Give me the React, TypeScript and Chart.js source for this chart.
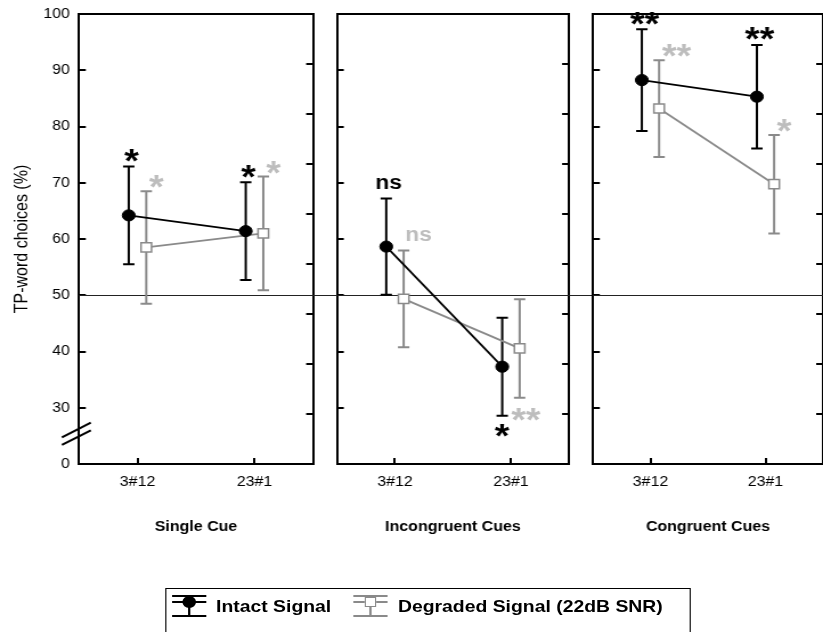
import React, { useEffect, useRef } from 'react';
import { Chart, registerables } from 'chart.js';

Chart.register(...registerables);

const FONT = "'Liberation Sans', Arial, Helvetica, sans-serif";

// ---------------- data ----------------
const CATEGORIES = ['3#12', '23#1'];
const PANEL_TITLES = ['Single Cue', 'Incongruent Cues', 'Congruent Cues'];
const SERIES = ['Intact Signal', 'Degraded Signal (22dB SNR)'];
const Y_AXIS_TITLE = 'TP-word choices (%)';
const Y_TICK_VALUES = [20, 30, 40, 50, 60, 70, 80, 90, 100];
const Y_TICK_LABELS = ['0', '30', '40', '50', '60', '70', '80', '90', '100'];
const CHANCE_LEVEL = 50;
const AXIS_BREAK_VALUE = 25.6;

const SINGLE_INTACT_MEAN = [64.2, 61.4];
const SINGLE_INTACT_ERR = [8.7, 8.7];
const SINGLE_INTACT_SIG = ['*', '*'];
const SINGLE_DEGRADED_MEAN = [58.5, 61.0];
const SINGLE_DEGRADED_ERR = [10.0, 10.1];
const SINGLE_DEGRADED_SIG = ['*', '*'];

const INCONG_INTACT_MEAN = [58.65, 37.3];
const INCONG_INTACT_ERR = [8.55, 8.7];
const INCONG_INTACT_SIG = ['ns', '*'];
const INCONG_DEGRADED_MEAN = [49.35, 40.55];
const INCONG_DEGRADED_ERR = [8.6, 8.75];
const INCONG_DEGRADED_SIG = ['ns', '**'];

const CONG_INTACT_MEAN = [88.25, 85.3];
const CONG_INTACT_ERR = [9.05, 9.2];
const CONG_INTACT_SIG = ['**', '**'];
const CONG_DEGRADED_MEAN = [83.2, 69.75];
const CONG_DEGRADED_ERR = [8.6, 8.75];
const CONG_DEGRADED_SIG = ['**', '*'];

const PANELS = [
  { intactMean: SINGLE_INTACT_MEAN, intactErr: SINGLE_INTACT_ERR, intactSig: SINGLE_INTACT_SIG,
    degMean: SINGLE_DEGRADED_MEAN, degErr: SINGLE_DEGRADED_ERR, degSig: SINGLE_DEGRADED_SIG },
  { intactMean: INCONG_INTACT_MEAN, intactErr: INCONG_INTACT_ERR, intactSig: INCONG_INTACT_SIG,
    degMean: INCONG_DEGRADED_MEAN, degErr: INCONG_DEGRADED_ERR, degSig: INCONG_DEGRADED_SIG },
  { intactMean: CONG_INTACT_MEAN, intactErr: CONG_INTACT_ERR, intactSig: CONG_INTACT_SIG,
    degMean: CONG_DEGRADED_MEAN, degErr: CONG_DEGRADED_ERR, degSig: CONG_DEGRADED_SIG },
];

// ---------------- layout / style ----------------
const VIEW_W = 823;
const LOGICAL_W = 722;
const STRETCH = VIEW_W / LOGICAL_W;
const CANVAS_W = 730;
const CANVAS_H = 632;
const AREA_TOP = 14;
const AREA_BOTTOM = 464;
const X_AXIS_H = 80;
const PANEL_AREAS = [
  { left: 69.3, right: 274.6 },
  { left: 295.6, right: 499.1 },
  { left: 520.2, right: 725.4 },
];
const INTACT_SHIFT = -0.15;
const DEGRADED_SHIFT = 0.15;
const BLACK = '#000000';
const GREY = '#8a8a8a';
const LIGHT_GREY = '#bdbdbd';

const refLinePlugin = {
  id: 'refLine',
  beforeDatasetsDraw(chart: any, _a: any, opts: any) {
    const { ctx, chartArea, scales } = chart;
    const y = Math.round(scales.y.getPixelForValue(opts.value)) + 0.5;
    ctx.save();
    ctx.strokeStyle = '#222';
    ctx.lineWidth = 1;
    ctx.beginPath();
    ctx.moveTo(chartArea.left, y);
    ctx.lineTo(opts.right, y);
    ctx.stroke();
    ctx.restore();
  },
};

const errorBarPlugin = {
  id: 'errorBars',
  beforeDatasetsDraw(chart: any) {
    const { ctx } = chart;
    const yS = chart.scales.y;
    chart.data.datasets.forEach((ds: any, di: number) => {
      const meta = chart.getDatasetMeta(di);
      meta.data.forEach((pt: any, i: number) => {
        const m = ds.data[i].y;
        const e = ds.errors[i];
        const yt = yS.getPixelForValue(m + e);
        const yb = yS.getPixelForValue(m - e);
        const x = pt.x;
        ctx.save();
        ctx.strokeStyle = ds.errorColor;
        ctx.lineWidth = 2;
        ctx.beginPath();
        ctx.moveTo(x, yt);
        ctx.lineTo(x, yb);
        ctx.moveTo(x - 5, yt);
        ctx.lineTo(x + 5, yt);
        ctx.moveTo(x - 5, yb);
        ctx.lineTo(x + 5, yb);
        ctx.stroke();
        ctx.restore();
      });
    });
  },
};

const sigPlugin = {
  id: 'sigLabels',
  afterDatasetsDraw(chart: any) {
    const { ctx } = chart;
    const yS = chart.scales.y;
    chart.data.datasets.forEach((ds: any, di: number) => {
      const meta = chart.getDatasetMeta(di);
      meta.data.forEach((pt: any, i: number) => {
        const label = ds.sig[i];
        if (!label) return;
        const m = ds.data[i].y;
        const e = ds.errors[i];
        const yt = yS.getPixelForValue(m + e);
        const yb = yS.getPixelForValue(m - e);
        const below = m + e < CHANCE_LEVEL;
        const stars = /^\*+$/.test(label);
        ctx.save();
        ctx.font = `bold ${stars ? 33 : 20}px ${FONT}`;
        ctx.fillStyle = ds.sigColor;
        ctx.textAlign = 'left';
        ctx.textBaseline = 'alphabetic';
        const mt = ctx.measureText(label);
        const abl = mt.actualBoundingBoxLeft;
        const abr = mt.actualBoundingBoxRight;
        const asc = mt.actualBoundingBoxAscent;
        const desc = mt.actualBoundingBoxDescent;
        const inkW = abl + abr;
        let cx: number;
        let cy: number;
        const central = ds.sigSide === 'center';
        if (below) {
          cx = central ? pt.x : pt.x + 5.5;
          cy = central ? yb + 15 : yb + 16.5;
        } else if (central) {
          cx = pt.x + 2.5;
          cy = yt - (stars ? 11 : 15);
        } else {
          cx = pt.x + 2.5 + inkW / 2;
          cy = yt - (stars ? 9.5 : 15);
        }
        const x = cx - inkW / 2 + abl;
        const y = cy + (asc - desc) / 2;
        ctx.fillText(label, x, y);
        ctx.restore();
      });
    });
  },
};

const breakPlugin = {
  id: 'axisBreak',
  afterDraw(chart: any) {
    const { ctx, chartArea } = chart;
    const cy = chart.scales.y.getPixelForValue(AXIS_BREAK_VALUE);
    const x = chartArea.left;
    ctx.save();
    ctx.strokeStyle = '#000';
    ctx.lineWidth = 2;
    for (const off of [-3.8, 3.8]) {
      ctx.beginPath();
      ctx.moveTo(x - 15, cy + off + 8.6);
      ctx.lineTo(x + 10.4, cy + off - 6);
      ctx.stroke();
    }
    ctx.restore();
  },
};

function noScalePadding(s: any) {
  s.paddingTop = 0;
  s.paddingBottom = 0;
  s.paddingLeft = 0;
  s.paddingRight = 0;
}

function buildConfig(p: number): any {
  const panel = PANELS[p];
  const area = PANEL_AREAS[p];
  const first = p === 0;
  const last = p === PANELS.length - 1;
  const border = { display: true, width: 2, color: BLACK };
  const tickGrid = {
    display: true,
    drawOnChartArea: false,
    drawTicks: true,
    tickLength: -6,
    lineWidth: 2,
    color: BLACK,
  };
  return {
    type: 'line',
    data: {
      datasets: [
        {
          label: SERIES[0],
          data: panel.intactMean.map((m, i) => ({ x: 2 * i + 1 + INTACT_SHIFT, y: m })),
          errors: panel.intactErr,
          sig: panel.intactSig,
          errorColor: BLACK,
          sigColor: BLACK,
          sigSide: 'center',
          borderColor: BLACK,
          borderWidth: 1.8,
          pointStyle: 'circle',
          pointRadius: 5.6,
          pointBorderWidth: 1,
          pointBackgroundColor: BLACK,
          pointBorderColor: BLACK,
          tension: 0,
          fill: false,
        },
        {
          label: SERIES[1],
          data: panel.degMean.map((m, i) => ({ x: 2 * i + 1 + DEGRADED_SHIFT, y: m })),
          errors: panel.degErr,
          sig: panel.degSig,
          errorColor: GREY,
          sigColor: LIGHT_GREY,
          sigSide: 'right',
          borderColor: GREY,
          borderWidth: 1.8,
          pointStyle: 'rect',
          pointRadius: 6.5,
          pointBorderWidth: 1.5,
          pointBackgroundColor: '#ffffff',
          pointBorderColor: GREY,
          tension: 0,
          fill: false,
        },
      ],
    },
    options: {
      responsive: false,
      animation: false,
      events: [],
      layout: {
        padding: {
          left: first ? 0 : area.left,
          right: CANVAS_W - area.right,
          top: AREA_TOP,
          bottom: CANVAS_H - AREA_BOTTOM - X_AXIS_H,
        },
      },
      plugins: {
        legend: { display: false },
        tooltip: { enabled: false },
        refLine: { value: CHANCE_LEVEL, right: last ? CANVAS_W : PANEL_AREAS[p + 1].left },
      },
      scales: {
        x: {
          type: 'linear',
          position: 'bottom',
          min: 0,
          max: 2 * CATEGORIES.length,
          afterBuildTicks: (s: any) => {
            s.ticks = CATEGORIES.map((_c, i) => ({ value: 2 * i + 1 }));
          },
          ticks: {
            callback: (_v: any, i: number) => CATEGORIES[i],
            font: { family: FONT, size: 14 },
            color: BLACK,
            padding: 16,
            maxRotation: 0,
            autoSkip: false,
          },
          grid: tickGrid,
          border,
          title: {
            display: true,
            text: PANEL_TITLES[p],
            font: { family: FONT, size: 14, weight: 'bold' },
            color: BLACK,
            padding: { top: 0, bottom: 8.6 },
          },
          afterFit: (s: any) => {
            s.height = X_AXIS_H;
            noScalePadding(s);
          },
        },
        x2: {
          type: 'linear',
          position: 'top',
          min: 0,
          max: 2 * CATEGORIES.length,
          ticks: { display: false },
          grid: { display: false },
          border,
          afterFit: (s: any) => {
            s.height = 0;
            noScalePadding(s);
          },
        },
        y: {
          type: 'linear',
          position: 'left',
          min: Y_TICK_VALUES[0],
          max: Y_TICK_VALUES[Y_TICK_VALUES.length - 1],
          afterBuildTicks: (s: any) => {
            s.ticks = Y_TICK_VALUES.map((v) => ({ value: v }));
          },
          ticks: {
            display: first,
            callback: (_v: any, i: number) => Y_TICK_LABELS[i],
            font: { family: FONT, size: 14 },
            color: BLACK,
            padding: 14,
            autoSkip: false,
          },
          grid: tickGrid,
          border,
          title: {
            display: first,
            text: Y_AXIS_TITLE,
            font: { family: FONT, size: 16 },
            color: BLACK,
            padding: { top: 9.7, bottom: 0 },
          },
          afterFit: (s: any) => {
            s.width = first ? area.left : 0;
            noScalePadding(s);
          },
        },
        y1: {
          type: 'linear',
          position: 'right',
          min: 0,
          max: 9,
          ticks: { display: false, stepSize: 1 },
          grid: tickGrid,
          border,
          afterFit: (s: any) => {
            s.width = 0;
            noScalePadding(s);
          },
        },
      },
    },
    plugins: [refLinePlugin, errorBarPlugin, sigPlugin, ...(first ? [breakPlugin] : [])],
  };
}

function LegendSymbol({ left, color, square }: { left: number; color: string; square: boolean }) {
  const w = 30.7;
  const line = (top: number) => (
    <div style={{ position: 'absolute', left: 0, top, width: w, height: 2, background: color }} />
  );
  return (
    <div style={{ position: 'absolute', left, top: 594.7, width: w, height: 24 }}>
      {line(0)}
      {line(6)}
      {line(20)}
      <div style={{ position: 'absolute', left: w / 2 - 1, top: 0, width: 2, height: 22, background: color }} />
      {square ? (
        <div
          style={{
            position: 'absolute',
            left: w / 2 - 5,
            top: 2,
            width: 10,
            height: 10,
            boxSizing: 'border-box',
            border: `1.5px solid ${color}`,
            background: '#fff',
          }}
        />
      ) : (
        <div
          style={{
            position: 'absolute',
            left: w / 2 - 6,
            top: 1,
            width: 12,
            height: 12,
            borderRadius: '50%',
            background: color,
          }}
        />
      )}
    </div>
  );
}

const legendText: React.CSSProperties = {
  position: 'absolute',
  top: 597.6,
  font: `bold 17px ${FONT}`,
  lineHeight: '17px',
  whiteSpace: 'nowrap',
  color: '#000',
};

export default function App() {
  const r0 = useRef<HTMLCanvasElement>(null);
  const r1 = useRef<HTMLCanvasElement>(null);
  const r2 = useRef<HTMLCanvasElement>(null);

  useEffect(() => {
    document.body.style.margin = '0';
    const refs = [r0, r1, r2];
    const charts = refs.map((r, i) => new Chart(r.current as HTMLCanvasElement, buildConfig(i)));
    return () => charts.forEach((c) => c.destroy());
  }, []);

  const canvasStyle: React.CSSProperties = { position: 'absolute', left: 0, top: 0, display: 'block' };

  return (
    <div
      style={{
        position: 'fixed',
        left: 0,
        top: 0,
        width: LOGICAL_W,
        height: CANVAS_H,
        overflow: 'hidden',
        background: '#fff',
        transform: `scaleX(${STRETCH})`,
        transformOrigin: '0 0',
      }}
    >
      <canvas ref={r0} width={CANVAS_W} height={CANVAS_H} style={canvasStyle} />
      <canvas ref={r1} width={CANVAS_W} height={CANVAS_H} style={canvasStyle} />
      <canvas ref={r2} width={CANVAS_W} height={CANVAS_H} style={canvasStyle} />
      <div
        style={{
          position: 'absolute',
          left: 144.7,
          top: 587.7,
          width: 461,
          height: 80,
          border: '1px solid #000',
          boxSizing: 'border-box',
        }}
      />
      <LegendSymbol left={150.6} color={BLACK} square={false} />
      <span style={{ ...legendText, left: 189.5 }}>{SERIES[0]}</span>
      <LegendSymbol left={309.6} color={GREY} square={true} />
      <span style={{ ...legendText, left: 349.1 }}>{SERIES[1]}</span>
    </div>
  );
}
